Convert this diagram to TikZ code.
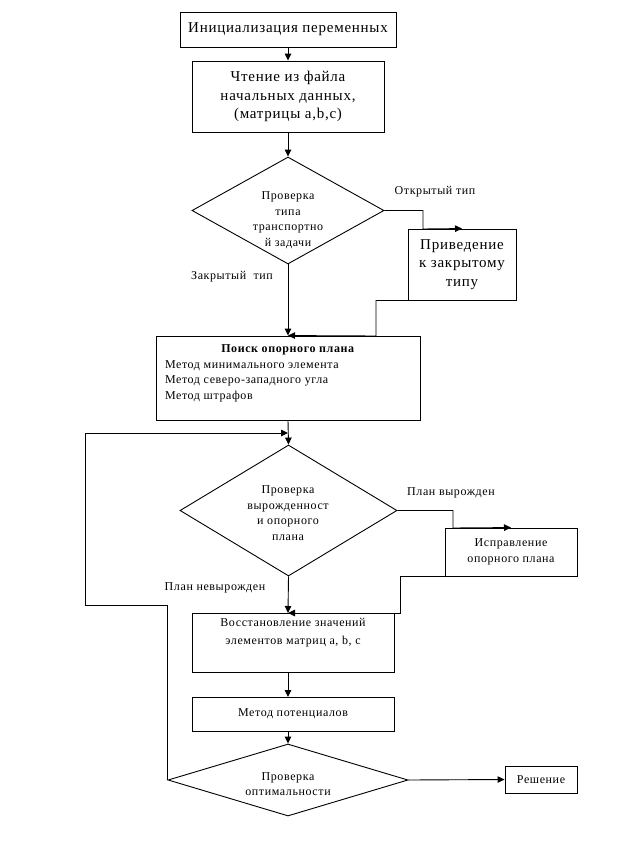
\documentclass[tikz,border=0pt]{standalone}
\usepackage{fontspec}
\setmainfont{Liberation Serif}[LetterSpace=5]
\usetikzlibrary{shapes.geometric,arrows.meta}
\newcommand{\fsmall}{\fontsize{12}{15.5}\selectfont}
\newcommand{\fbig}{\fontsize{15}{18.3}\selectfont}
\begin{document}
\begin{tikzpicture}[x=1pt,y=-1pt,
  line width=0.9pt,
  box/.style={draw, inner sep=0pt, align=center, font=\fsmall},
  bigbox/.style={box, font=\fbig},
  dia/.style={draw, diamond, inner sep=0pt},
  dtext/.style={inner sep=0pt, align=center, font=\fsmall},
  lbl/.style={inner sep=0pt, font=\fsmall},
  arr/.style={-{Triangle[length=7pt,width=6.5pt]}},
]
\fill[white] (0,0) rectangle (637,841);
\useasboundingbox (0,0) rectangle (637,841);

% nodes
\node[bigbox, minimum width=216, minimum height=35] (init) at (288,29.5) {Инициализация переменных};
\node[bigbox, minimum width=192, minimum height=71] (read) at (288,96.5) {Чтение из файла\\начальных данных,\\(матрицы a,b,c)};
\node[dia, minimum width=192, minimum height=107, aspect=1.79] (d1) at (288,210.5) {};
\node[dtext] (d1t) at (288,220) {Проверка\\типа\\транспортно\\й задачи};
\node[bigbox, minimum width=108, minimum height=71] (priv) at (462,264.5) {Приведение\\к закрытому\\типу};
\node[box, minimum width=264, minimum height=84] (srch) at (288,378)
  {\parbox[c][84pt][t]{264pt}{\vspace*{9pt}\centering\textbf{Поиск опорного плана}\par
   \raggedright\hspace*{9pt}Метод минимального элемента\par
   \hspace*{9pt}Метод северо-западного угла\par
   \hspace*{9pt}Метод штрафов\par}};
\node[dia, minimum width=217, minimum height=131, aspect=1.66] (d2) at (288.5,510.5) {};
\node[dtext] (d2t) at (288,513) {Проверка\\вырожденност\\и опорного\\плана};
\node[box, minimum width=132, minimum height=48] (ispr) at (511,552) {Исправление\\опорного плана};
\node[box, minimum width=202, minimum height=59] (rest) at (293,642.5)
  {\parbox[c][59pt][t]{202pt}{\centering\fontsize{12}{18.3}\selectfont\vspace*{5pt}Восстановление значений\par элементов матриц a, b, c\par}};
\node[box, minimum width=202, minimum height=34] (pot) at (293,714) {Метод потенциалов};
\node[dia, minimum width=240, minimum height=72, aspect=3.33] (d3) at (288,780) {};
\node[dtext] (d3t) at (288,784) {Проверка\\оптимальности};
\node[box, minimum width=72, minimum height=27] (resh) at (541,779.5) {Решение};

% labels
\node[lbl] (lo) at (435,192) {Открытый тип};
\node[lbl] (lz) at (232,277) {Закрытый~ тип};
\node[lbl] (lv) at (451,493) {План вырожден};
\node[lbl] (ln) at (215,588) {План невырожден};

% bend coordinates
\coordinate (b1) at (423,229);
\coordinate (b2) at (376,336);
\coordinate (b3) at (453,528);
\coordinate (b4) at (400,613);
\coordinate (l1) at (85,605);
\coordinate (l2) at (85,433);
\coordinate (j) at (288,433);
\coordinate (rin) at (288,613);
\coordinate (rout) at (288,672);
\coordinate (pin) at (288,697);
\coordinate (pout) at (288,731);

% connectors
\draw[arr] (init.south) -- (read.north);
\draw[arr] (read.south) -- (d1.north);
\draw[arr] (d1.east) -| (b1) -- (priv.north);
\draw[arr] (priv.south) -| (b2) -- (srch.north);
\draw[arr] (d1.south) -- (srch.north);
\draw[arr] (srch.south) -- (d2.north);
\draw[arr] (d3.west) |- (l1) -- (l2) -- (j);
\draw[arr] (d2.east) -| (b3) -- (ispr.north);
\draw[arr] (ispr.south) -| (b4) -- (rin);
\draw[arr] (d2.south) -- (rin);
\draw[arr] (rout) -- (pin);
\draw[arr] (pout) -- (d3.north);
\draw[arr] (d3.east) -- (resh.west);
\end{tikzpicture}
\end{document}
